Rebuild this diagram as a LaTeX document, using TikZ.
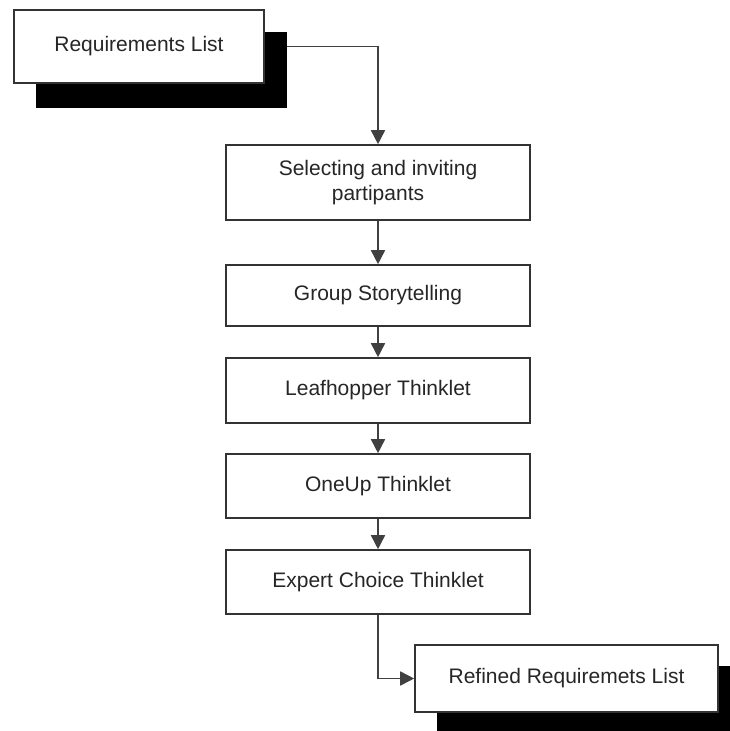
\documentclass[tikz,border=0pt]{standalone}
\usepackage{fontspec}
\setmainfont{Liberation Sans}
\usetikzlibrary{arrows.meta}
\begin{document}
\begin{tikzpicture}[x=1pt,y=-1pt,
  box/.style={draw=black!80,line width=1.6pt,fill=white,rectangle,inner sep=0pt,
    text=black!85,font=\fontsize{21}{25}\selectfont,align=center},
  shade/.style={fill=black,draw=none,rectangle,inner sep=0pt},
  conn/.style={draw=black!75,line width=1.6pt,-{Triangle[length=14pt,width=14pt]}}]
\useasboundingbox (0,0) rectangle (730,731);
\clip (0,0) rectangle (730,731);
% shadows
\node[shade,minimum width=251pt,minimum height=76pt] (reqs) at (161.5,70) {};
\node[shade,minimum width=303pt,minimum height=67pt] (refs) at (588.5,699) {};
% boxes
\node[box,minimum width=250pt,minimum height=73pt] (req) at (139,46.5) {Requirements List};
\node[box,minimum width=304pt,minimum height=75pt] (sel) at (378,182.5) {Selecting and inviting\\partipants};
\node[box,minimum width=304pt,minimum height=61pt] (grp) at (378,295.5) {Group Storytelling};
\node[box,minimum width=304pt,minimum height=65pt] (leaf) at (378,390.5) {Leafhopper Thinklet};
\node[box,minimum width=304pt,minimum height=64pt] (one) at (378,486) {OneUp Thinklet};
\node[box,minimum width=304pt,minimum height=64pt] (exp) at (378,582) {Expert Choice Thinklet};
\node[box,minimum width=303pt,minimum height=67pt] (ref) at (566.5,678.5) {Refined Requiremets List};
% connectors
\draw[conn] (reqs.east |- req.east) -| (sel.north);
\draw[conn] (sel) -- (grp);
\draw[conn] (grp) -- (leaf);
\draw[conn] (leaf) -- (one);
\draw[conn] (one) -- (exp);
\draw[conn] (exp.south) |- (ref.west);
\end{tikzpicture}
\end{document}
